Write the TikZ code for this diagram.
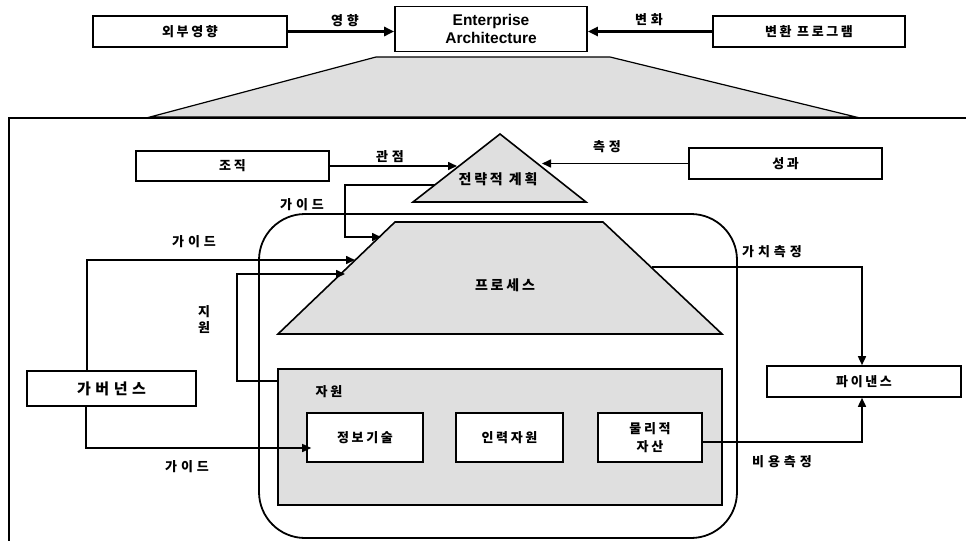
\documentclass[tikz,border=0pt]{standalone}
\usepackage{fontspec}
\setmainfont{Liberation Sans}
\newfontfamily\kr{Noto Sans CJK KR}[LetterSpace=20]
\newfontfamily\krl{Noto Sans CJK KR}[LetterSpace=30]
\usetikzlibrary{arrows.meta,calc}
\tikzset{
  bx/.style={draw,line width=1.6pt,fill=white,inner sep=0pt,align=center,
    font=\kr\bfseries\fontsize{13}{15}\selectfont},
  lbl/.style={inner sep=0pt,align=center,font=\krl\bfseries\fontsize{13}{14}\selectfont},
  con/.style={line width=1.6pt,-{Triangle[length=9pt,width=8pt]}},
  thk/.style={line width=2.6pt,-{Triangle[length=10pt,width=9pt]}},
  shd/.style={draw,line width=1.6pt,fill=gray!25},
}
\begin{document}
\begin{tikzpicture}[x=1pt,y=-1pt]
\useasboundingbox (0,0) rectangle (966,541);
% top trapezoid and frame
\draw[shd,line width=1.2pt] (376,57) -- (610,57) -- (856,117) -- (150,117) -- cycle;
\draw[line width=1.8pt] (966,118) -- (9,118) -- (9,541);
% top row
\node[bx,minimum width=194pt,minimum height=31pt] (ext) at (190,31.5) {외부영향};
\node[bx,minimum width=192pt,minimum height=45pt,font=\bfseries\fontsize{15.5}{18.5}\selectfont] (ea) at (491,29) {Enterprise\\Architecture};
\node[bx,minimum width=192pt,minimum height=31pt] (chg) at (809,31.5) {변환 프로그램};
\draw[thk] (ext.east) -- (ext.east -| ea.west);
\draw[thk] (chg.west) -- (chg.west -| ea.east);
\node[lbl] (l1) at (345,21) {영향};
\node[lbl] (l2) at (649,20) {변화};
% rounded container
\draw[line width=1.8pt,rounded corners=46pt] (259,214) rectangle (737,538);
% strategic plan triangle
\coordinate (ta) at (500,134);
\coordinate (tbl) at (413,202);
\coordinate (tbr) at (586,202);
\draw[shd] (ta) -- (tbr) -- (tbl) -- cycle;
\node[lbl,font=\kr\bfseries\fontsize{14}{15}\selectfont] (stp) at (498,179) {전략적 계획};
% process trapezoid
\coordinate (ptl) at (395,222);
\coordinate (ptr) at (603,222);
\coordinate (pbr) at (722,334);
\coordinate (pbl) at (278,334);
\draw[shd] (ptl) -- (ptr) -- (pbr) -- (pbl) -- cycle;
\node[lbl,font=\kr\bfseries\fontsize{14}{15}\selectfont] (proc) at (505,285) {프로세스};
% boxes
\node[bx,minimum width=193pt,minimum height=30pt] (org) at (232.5,166) {조직};
\node[bx,minimum width=193pt,minimum height=31pt] (perf) at (785.5,163.5) {성과};
\node[bx,minimum width=169pt,minimum height=35pt,font=\krl\bfseries\fontsize{15}{16}\selectfont] (gov) at (111.5,388.5) {가버넌스};
\node[bx,minimum width=194pt,minimum height=31pt] (fin) at (864,381.5) {파이낸스};
% resources
\node[shd,minimum width=444pt,minimum height=136pt,inner sep=0pt] (res) at (500,437) {};
\node[lbl,font=\kr\bfseries\fontsize{13}{14}\selectfont] (resl) at (329,392) {자원};
\node[bx,minimum width=116pt,minimum height=49pt] (it) at (365,437.5) {정보기술};
\node[bx,minimum width=107pt,minimum height=49pt] (hr) at (509.5,437.5) {인력자원};
\node[bx,minimum width=104pt,minimum height=49pt,font=\kr\bfseries\fontsize{13}{18}\selectfont] (phy) at (650,437.5) {물리적\\자산};
% connector end points
\coordinate (stin) at (457,166);
\coordinate (stin2) at (542,163.5);
\coordinate (g1s) at (435,185);
\coordinate (g1e) at (381,237);
\coordinate (g2e) at (355,260);
\coordinate (spe) at (345,274);
\coordinate (vs) at (652,267);
% connectors
\draw[con] (org.east) -- (stin);
\draw[con] (perf.west) -- (stin2);
\draw[con] (g1s) -- (345,185) -- (345,237) -- (g1e);
\draw[con] ([xshift=-24.5pt]gov.north) |- (g2e);
\draw[con] (res.west |- 0,381) -- (237,381) -- (237,274) -- (spe);
\draw[con] ([xshift=-25.5pt]gov.south) |- ([yshift=-10.5pt,xshift=5pt]it.west);
\draw[con] (vs) -| ([xshift=-2pt]fin.north);
\draw[con] ([yshift=-4.5pt]phy.east) -| ([xshift=-2pt]fin.south);
% labels
\node[lbl] (l3) at (390,157) {관점};
\node[lbl] (l4) at (607,147) {측정};
\node[lbl] (l5) at (302,205) {가이드};
\node[lbl] (l6) at (194,242) {가이드};
\node[lbl] (l7) at (187,467) {가이드};
\node[lbl,font=\kr\bfseries\fontsize{13}{16}\selectfont] (l8) at (204,320) {지\\원};
\node[lbl] (l9) at (772,252) {가치측정};
\node[lbl] (l10) at (782,462) {비용측정};
\end{tikzpicture}
\end{document}
